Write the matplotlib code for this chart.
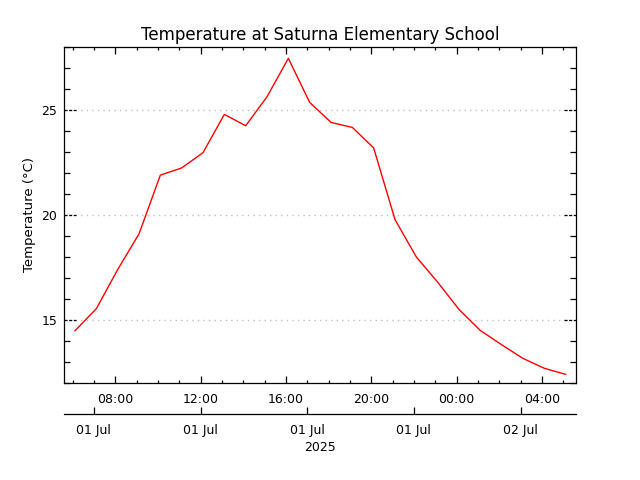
import matplotlib
matplotlib.use('Agg')
import matplotlib.pyplot as plt
import matplotlib.dates as mdates
import matplotlib.transforms as mtransforms
from matplotlib.ticker import MultipleLocator
from datetime import datetime

# hourly readings, 01 Jul 06:07 -> 02 Jul 05:07
times = ['2025-07-01 06:07', '2025-07-01 07:07', '2025-07-01 08:07', '2025-07-01 09:07',
         '2025-07-01 10:07', '2025-07-01 11:07', '2025-07-01 12:07', '2025-07-01 13:07',
         '2025-07-01 14:07', '2025-07-01 15:07', '2025-07-01 16:07', '2025-07-01 17:07',
         '2025-07-01 18:07', '2025-07-01 19:07', '2025-07-01 20:07', '2025-07-01 21:07',
         '2025-07-01 22:07', '2025-07-01 23:07', '2025-07-02 00:07', '2025-07-02 01:07',
         '2025-07-02 02:07', '2025-07-02 03:07', '2025-07-02 04:07', '2025-07-02 05:07']
temps = [14.49, 15.54, 17.4, 19.1, 21.9, 22.24, 22.97, 24.79,
         24.25, 25.63, 27.46, 25.36, 24.41, 24.17, 23.19, 19.78,
         18.0, 16.8, 15.5, 14.5, 13.82, 13.17, 12.7, 12.41]
date_ticks = ['2025-07-01 07:00', '2025-07-01 12:00', '2025-07-01 17:00',
              '2025-07-01 22:00', '2025-07-02 03:00']
x_range = ['2025-07-01 05:36', '2025-07-02 05:36']
y_range = [12, 28]
y_major = [15, 20, 25]

fmt = '%Y-%m-%d %H:%M'
x = [datetime.strptime(t, fmt) for t in times]
xt = [datetime.strptime(t, fmt) for t in date_ticks]
xr = [datetime.strptime(t, fmt) for t in x_range]

lw = 0.9
fig = plt.figure(figsize=(6.4, 4.8), dpi=100)
ax = fig.add_axes([64 / 640, 1 - 383 / 480, 512 / 640, 336 / 480])

ax.plot(x, temps, color='#ff0000', linewidth=1.0, zorder=3)
ax.set_xlim(xr)
ax.set_ylim(y_range)

for sp in ax.spines.values():
    sp.set_linewidth(lw)

# y axis: minor ticks every degree, majors drawn as dotted stubs + grey grid
ax.set_yticks(y_major)
ax.yaxis.set_minor_locator(MultipleLocator(1))
ax.tick_params(axis='y', which='major', direction='in', length=0, left=True, right=True,
               labelsize=9, pad=5, width=lw)
ax.tick_params(axis='y', which='minor', direction='in', length=4.3, left=True, right=True,
               width=lw)
trans = mtransforms.blended_transform_factory(ax.transAxes, ax.transData)
stub = 12 / 512
for v in y_major:
    ax.plot([0, 1], [v, v], transform=trans, color='#c0c0c0', lw=1.0,
            linestyle=(0, (1, 3)), zorder=1)
    ax.plot([0, stub], [v, v], transform=trans, color='black', lw=lw,
            linestyle=(0, (2.5, 1.2)), zorder=2)
    ax.plot([1 - stub, 1], [v, v], transform=trans, color='black', lw=lw,
            linestyle=(0, (2.5, 1.2)), zorder=2)

# x axis: hours
ax.xaxis.set_major_locator(mdates.HourLocator(byhour=[0, 4, 8, 12, 16, 20]))
ax.xaxis.set_minor_locator(mdates.HourLocator())
ax.xaxis.set_major_formatter(mdates.DateFormatter('%H:%M'))
ax.tick_params(axis='x', which='major', direction='in', length=5, top=True, bottom=True,
               labelsize=9, pad=7, width=lw)
ax.tick_params(axis='x', which='minor', direction='in', length=2.5, top=True, bottom=True,
               width=lw)

# second axis below with dates
secax = ax.secondary_xaxis(-31 / 336)
secax.set_xticks(mdates.date2num(xt))
secax.xaxis.set_major_formatter(mdates.DateFormatter('%d %b'))
secax.tick_params(axis='x', direction='in', length=5.3, labelsize=9, pad=7, width=lw)
secax.spines['bottom'].set_linewidth(lw)
secax.set_xlabel('2025', fontsize=9, labelpad=3)

ax.set_ylabel('Temperature (°C)', fontsize=9.5, labelpad=4)
ax.set_title('Temperature at Saturna Elementary School', fontsize=12, pad=5)

fig.savefig('out.png', dpi=100)
